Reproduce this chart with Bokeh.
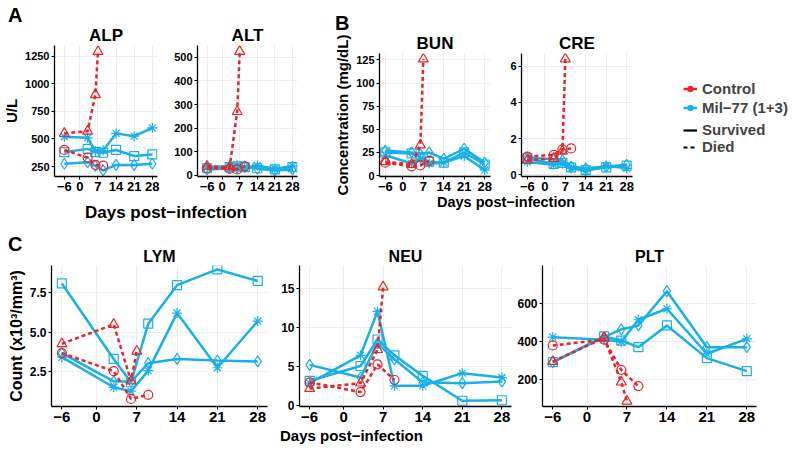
from bokeh.plotting import figure
from bokeh.layouts import row, column
from bokeh.models import (Range1d, FixedTicker, Div, Legend, LegendItem,
                          PrintfTickFormatter)
from bokeh.embed import file_html
from bokeh.resources import INLINE

FONT = "Liberation Sans"
RED = "#E8242B"
BLUE = "#19B0E8"

# ---------------- data ----------------
DAY_TICKS = [-6, 0, 7, 14, 21, 28]
DAYS_CTRL_TRI = [-6, 3, 6, 7]      # control animal that died day 7
DAYS_CTRL_CIRC = [-6, 3, 6, 9]     # control animal that died day 9
DAYS_MIL = [-6, 3, 6, 9, 14, 21, 28]

ALP_TRI = [550, 570, 900, 1290]
ALP_CIRC = [400, 330, 265, 258]
ALP_AST = [520, 510, 390, 395, 550, 525, 600]
ALP_SQ = [380, 410, 380, 375, 400, 345, 360]
ALP_DIA = [275, 290, 255, 215, 265, 265, 275]

ALT_TRI = [38, 35, 270, 525]
ALT_CIRC = [30, 28, 25, 38]
ALT_AST = [35, 38, 42, 32, 42, 28, 40]
ALT_SQ = [30, 35, 38, 35, 30, 25, 35]
ALT_DIA = [25, 30, 32, 38, 28, 20, 25]

BUN_TRI = [15, 12, 33, 126]
BUN_CIRC = [14, 10, 11, 16]
BUN_DIA = [27, 25, 23, 25, 18, 29, 14]
BUN_SQ = [25, 24, 20, 15, 14, 25, 12]
BUN_AST = [22, 13, 18, 13, 14, 21, 6]

CRE_TRI = [0.8, 0.9, 1.3, 6.4]
CRE_CIRC = [1.0, 1.1, 1.4, 1.45]
CRE_DIA = [0.95, 0.85, 0.8, 0.45, 0.35, 0.45, 0.55]
CRE_SQ = [0.9, 0.6, 0.65, 0.4, 0.25, 0.4, 0.5]
CRE_AST = [0.7, 0.55, 0.6, 0.35, 0.2, 0.5, 0.35]

LYM_TRI = [4.26, 5.49, 1.9, 3.79]
LYM_CIRC = [3.67, 2.52, 0.76, 1.02]
LYM_SQ = [8.09, 3.3, 1.82, 5.54, 7.98, 8.98, 8.25]
LYM_AST = [3.41, 1.5, 1.25, 2.56, 6.21, 2.74, 5.7]
LYM_DIA = [3.67, 1.88, 1.85, 3.03, 3.3, 3.2, 3.14]

NEU_TRI = [2.2, 2.9, 7.2, 15.25]
NEU_CIRC = [3.0, 1.75, 5.3, 3.3]
NEU_DIA = [5.24, 3.62, 8.0, 5.96, 3.0, 2.9, 3.1]
NEU_AST = [2.9, 6.47, 12.1, 2.56, 2.56, 4.18, 3.62]
NEU_SQ = [3.2, 5.1, 8.5, 6.47, 3.83, 0.64, 0.7]

PLT_TRI = [295, 420, 186, 85]
PLT_CIRC = [380, 411, 251, 165]
PLT_AST = [424, 410, 400, 516, 574, 336, 415]
PLT_DIA = [292, 424, 465, 486, 667, 371, 371]
PLT_SQ = [292, 428, 406, 371, 486, 313, 244]


def make_fig(name, tri, circ, sq, ast, dia, xr, yr, yticks, w, h, borders,
             title_size="17px", xtick_size="13px", ytick_size="11px",
             ylabel=None, ylabel_size="15px", fmt=None):
    bl, br, bt, bb = borders
    p = figure(width=w, height=h, min_border_left=bl, min_border_right=br,
               min_border_top=bt, min_border_bottom=bb,
               x_range=Range1d(*xr), y_range=Range1d(*yr),
               toolbar_location=None, output_backend="svg", title=name)
    p.outline_line_color = None
    p.border_fill_color = None
    p.title.align = "center"
    p.title.text_font = FONT
    p.title.text_font_size = title_size
    p.title.text_font_style = "bold"
    p.title.text_color = "black"
    p.title.standoff = 2
    p.xgrid.grid_line_color = "#EDEDED"
    p.ygrid.grid_line_color = "#EDEDED"

    # Mil-77 treated animals (survived) - solid blue
    for ys, mk, sz in ((sq, "square", 9), (ast, "asterisk", 10), (dia, "diamond", 11)):
        p.line(DAYS_MIL, ys, line_color=BLUE, line_width=2.5)
        p.scatter(DAYS_MIL, ys, marker=mk, size=sz, line_color=BLUE,
                  fill_color=None, line_width=1.2)
    # Controls (died) - dashed red
    for xs, ys, mk, sz in ((DAYS_CTRL_TRI, tri, "triangle", 10),
                           (DAYS_CTRL_CIRC, circ, "circle", 9)):
        p.line(xs, ys, line_color=RED, line_width=2.5, line_dash="4 3")
        p.scatter(xs, ys, marker=mk, size=sz, line_color=RED,
                  fill_color=None, line_width=1.2)

    p.xaxis.ticker = FixedTicker(ticks=DAY_TICKS)
    p.xaxis.major_label_overrides = {-6: "\u22126"}
    p.yaxis.ticker = FixedTicker(ticks=yticks)
    if fmt:
        p.yaxis.formatter = PrintfTickFormatter(format=fmt)
    for ax in p.axis:
        ax.axis_line_color = "black"
        ax.axis_line_width = 1.3
        ax.major_tick_line_color = "black"
        ax.major_tick_out = 3
        ax.major_tick_in = 0
        ax.minor_tick_line_color = None
        ax.major_label_text_font = FONT
        ax.major_label_text_font_style = "bold"
        ax.major_label_text_color = "black"
        ax.major_label_standoff = 2
    p.xaxis.major_label_text_font_size = xtick_size
    p.yaxis.major_label_text_font_size = ytick_size
    if ylabel:
        p.yaxis.axis_label = ylabel
        p.yaxis.axis_label_text_font = FONT
        p.yaxis.axis_label_text_font_style = "bold"
        p.yaxis.axis_label_text_font_size = ylabel_size
        p.yaxis.axis_label_text_color = "black"
        p.yaxis.axis_label_standoff = 2
    return p


def text_div(text, width, height, css, overflow=False):
    d = Div(text='<div style="font-family:\'Liberation Sans\';font-weight:bold;'
                 'white-space:nowrap;' + css + '">' + text + '</div>',
            width=width, height=height, margin=0)
    if overflow:
        d.styles = {"overflow": "visible", "z-index": "5"}
    return d


XR_AB = (-9.8, 30)
XR_C = (-7.8, 29.7)

alp = make_fig("ALP", ALP_TRI, ALP_CIRC, ALP_SQ, ALP_AST, ALP_DIA, XR_AB, (160, 1345),
               [250, 500, 750, 1000, 1250], 166, 182, (52, 9, 22, 28), ylabel="U/L")
alt = make_fig("ALT", ALT_TRI, ALT_CIRC, ALT_SQ, ALT_AST, ALT_DIA, XR_AB, (-5, 550),
               [0, 100, 200, 300, 400, 500], 134, 182, (31, 3, 22, 28))

bun = make_fig("BUN", BUN_TRI, BUN_CIRC, BUN_SQ, BUN_AST, BUN_DIA, (-8, 30), (-1, 132),
               [0, 25, 50, 75, 100, 125], 200, 165, (79, 10, 22, 19),
               ylabel="Concentration (mg/dL)")
cre = make_fig("CRE", CRE_TRI, CRE_CIRC, CRE_SQ, CRE_AST, CRE_DIA, (-8, 30), (-0.1, 6.7),
               [0, 2, 4, 6], 140, 165, (21, 8, 22, 19))

lym = make_fig("LYM", LYM_TRI, LYM_CIRC, LYM_SQ, LYM_AST, LYM_DIA, XR_C, (0.28, 9.23),
               [2.5, 5.0, 7.5], 275, 184, (51, 8, 21, 22), title_size="16px",
               xtick_size="15px", ytick_size="12px", ylabel="Count (x10\u00b3/mm\u00b3)",
               ylabel_size="16px", fmt="%.1f")
neu = make_fig("NEU", NEU_TRI, NEU_CIRC, NEU_SQ, NEU_AST, NEU_DIA, XR_C, (-0.1, 18.0),
               [0, 5, 10, 15], 239, 184, (24, 3, 21, 22), title_size="16px",
               xtick_size="15px", ytick_size="12px")
plt = make_fig("PLT", PLT_TRI, PLT_CIRC, PLT_SQ, PLT_AST, PLT_DIA, XR_C, (57, 803),
               [200, 400, 600], 278, 184, (27, 36, 21, 22), title_size="16px",
               xtick_size="15px", ytick_size="12px")

# ---------------- legend ----------------
lf = figure(width=152, height=226, x_range=Range1d(0, 1), y_range=Range1d(0, 1),
            min_border=0, toolbar_location=None, output_backend="svg",
            x_axis_location=None, y_axis_location=None, outline_line_color=None)
lf.grid.visible = False
HIDDEN = dict(x=[-10], y=[-10])   # legend-key renderers, kept outside the visible range
r_cl = lf.line(line_color=RED, line_width=2.5, **HIDDEN)
r_cs = lf.scatter(marker="circle", size=7, line_color=RED, fill_color=RED, **HIDDEN)
r_ml = lf.line(line_color=BLUE, line_width=2.5, **HIDDEN)
r_ms = lf.scatter(marker="circle", size=7, line_color=BLUE, fill_color=BLUE, **HIDDEN)
r_sv = lf.line(line_color="black", line_width=2.2, **HIDDEN)
r_dd = lf.line(line_color="black", line_width=2.2, line_dash="4 3", **HIDDEN)

common = dict(background_fill_alpha=0, border_line_color=None, padding=0, margin=0,
              spacing=0, glyph_width=14, label_standoff=5,
              label_text_font=FONT, label_text_font_size="15px",
              label_text_font_style="bold")
leg1 = Legend(items=[LegendItem(label="Control", renderers=[r_cl, r_cs]),
                     LegendItem(label="Mil\u221277 (1+3)", renderers=[r_ml, r_ms])],
              location=(43, 109), glyph_height=19, label_height=19, **common)
leg2 = Legend(items=[LegendItem(label="Survived", renderers=[r_sv]),
                     LegendItem(label="Died", renderers=[r_dd])],
              location=(43, 71), glyph_height=16, label_height=16, **common)
lf.add_layout(leg1)
lf.add_layout(leg2)

# ---------------- panel letters and shared x labels ----------------
XLAB = "Days post\u2212infection"
div_A = text_div("A", 300, 22, "font-size:20px;line-height:30px;padding-left:8px;")
div_B = text_div("B", 340, 30, "font-size:20px;line-height:20px;padding-top:13px;"
                               "padding-left:35px;")
div_C = text_div("C", 792, 18, "font-size:20px;line-height:36px;padding-left:8px;"
                               "position:relative;z-index:5;", overflow=True)
xlab_A = text_div(XLAB, 300, 22, "font-size:17px;line-height:17px;padding-left:85px;")
xlab_B = text_div(XLAB, 340, 31, "font-size:14.5px;line-height:10px;padding-left:137px;")
xlab_C = text_div(XLAB, 792, 20, "font-size:15px;line-height:15px;padding-left:280px;")

top = row(column(div_A, row(alp, alt), xlab_A),
          column(div_B, row(bun, cre), xlab_B),
          lf)
bottom = column(div_C, row(lym, neu, plt), xlab_C)
layout = column(top, bottom)

open("out.html", "w").write(file_html(layout, INLINE))
